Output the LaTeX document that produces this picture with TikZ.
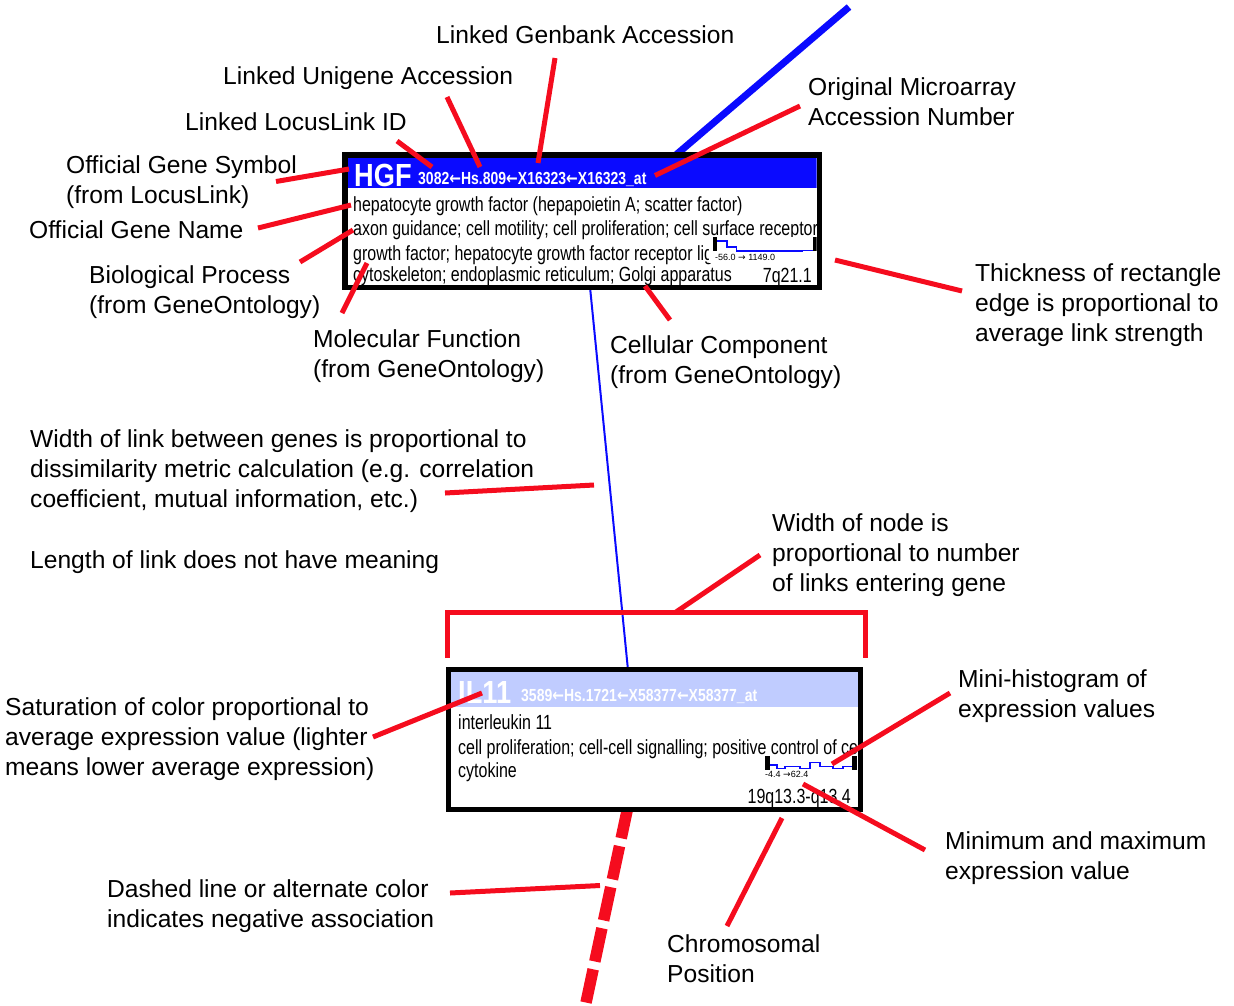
\documentclass[tikz,border=0pt]{standalone}
\usepackage{fontspec}
\setmainfont{Liberation Sans}
\newfontfamily\narrow[FakeStretch=0.78]{Liberation Sans}
\newfontfamily\narrowI[FakeStretch=0.80]{Liberation Sans}
\newfontfamily\narrowB[FakeStretch=0.85]{Liberation Sans}
\newfontfamily\arrowfont[FakeStretch=0.8]{DejaVu Sans}
\newfontfamily\arrowplain{DejaVu Sans}
\newcommand{\larr}{{\arrowfont\bfseries ←}}
\newcommand{\rarr}{{\arrowplain →}}
\usetikzlibrary{calc}
\definecolor{annred}{RGB}{245,12,30}
\definecolor{linkblue}{RGB}{10,10,255}
\definecolor{hdrblue}{RGB}{10,10,255}
\definecolor{hdrlight}{RGB}{192,204,255}
\begin{document}
\begin{tikzpicture}[x=1pt,y=-1pt,
  lbl/.style={anchor=base west, inner sep=0pt, align=left, font=\fontsize{24.6}{30}\selectfont},
  ann/.style={draw=annred, line width=5pt},
  genebox/.style={draw=black, fill=white, line width=5.5pt, inner sep=0pt, rectangle},
  body/.style={anchor=base west, inner sep=0pt, font=\narrow\fontsize{20.5}{24}\selectfont},
  symb/.style={anchor=base west, inner sep=0pt, text=white, font=\narrowB\bfseries\fontsize{32}{34}\selectfont},
  ids/.style={anchor=base west, inner sep=0pt, text=white, font=\narrowI\bfseries\fontsize{17.5}{19}\selectfont},
  histlbl/.style={anchor=base west, inner sep=0pt, font=\fontsize{9}{10}\selectfont},
  histline/.style={draw=linkblue, line width=1.6pt},
]
\useasboundingbox (0,0) rectangle (1234,1005);

% ---------- links (behind boxes) ----------
\coordinate (linkTop) at (590,287);
\coordinate (linkBot) at (628,670);
\coordinate (thickA) at (670,160);
\coordinate (thickB) at (849,7);
\coordinate (dashA) at (628.3,805);
\coordinate (dashB) at (585.5,1005);
\draw[linkblue, line width=2pt] (linkTop) -- (linkBot);
\draw[linkblue, line width=7pt] (thickA) -- (thickB);
\draw[annred, line width=11.5pt, dash pattern=on 34pt off 8pt] (dashA) -- (dashB);

% ---------- gene boxes ----------
\node[genebox, minimum width=474.5pt, minimum height=132.5pt] (hgf) at (582,221) {};
\node[genebox, line width=5pt, minimum width=412pt, minimum height=140pt] (il11) at (654.5,739.5) {};

% HGF contents
\begin{scope}
  \clip (347.5,157.5) rectangle (816.5,284.5);
  \fill[hdrblue] (347.5,157.5) rectangle (816.5,188);
  \node[symb] (hgfSym) at (354,186.5) {HGF};
  \node[ids] (hgfIds) at (418,184) {3082\larr Hs.809\larr X16323\larr X16323\_at};
  \node[body] (hgfName) at (353,211) {hepatocyte growth factor (hepapoietin A; scatter factor)};
  \node[body] (hgfBP) at (353,235.5) {axon guidance; cell motility; cell proliferation; cell surface receptor};
  \node[body] (hgfMF) at (353,260) {growth factor; hepatocyte growth factor receptor lig};
  \node[body] (hgfCC) at (353,281) {cytoskeleton; endoplasmic reticulum; Golgi apparatus};
  \node[body, anchor=base east] (hgfChr) at (812,282) {7q21.1};
  \fill[white] (709,237) rectangle (819,263);
  \fill[black] (712.5,237) rectangle (717,251);
  \fill[black] (813,237) rectangle (819,251);
  \draw[histline] (717,241) -- (727,241) -- (727,247) -- (736.5,247) -- (736.5,251) -- (802,251) -- (802,250.3) -- (813,250.3);
  \node[histlbl] (hgfRange) at (715,260) {-56.0 \rarr{} 1149.0};
\end{scope}

% IL11 contents
\begin{scope}
  \clip (451,672) rectangle (858,807);
  \fill[hdrlight] (451,672) rectangle (858,707);
  \node[symb] (il11Sym) at (458,703.5) {IL11};
  \node[ids] (il11Ids) at (521,701.5) {3589\larr Hs.1721\larr X58377\larr X58377\_at};
  \node[body] (il11Name) at (458,729) {interleukin 11};
  \node[body] (il11BP) at (458,754) {cell proliferation; cell-cell signalling; positive control of ce};
  \node[body] (il11MF) at (458,777) {cytokine};
  \node[body, anchor=base east] (il11Chr) at (851,803) {19q13.3-q13.4};
  \fill[white] (763,755.5) rectangle (858,779);
  \fill[black] (765,756) rectangle (769.5,769.5);
  \fill[black] (852,756) rectangle (857,769.5);
  \draw[histline] (769.5,765) -- (777,765) -- (777,768.5) -- (785,768.5) -- (785,766.5) -- (800,766.5) -- (800,768.5) -- (810,768.5) -- (810,762.5) -- (820,762.5) -- (820,766.5) -- (833,766.5) -- (833,768.5) -- (843,768.5) -- (843,766.5) -- (852,766.5);
  \node[histlbl] (il11Range) at (765,777) {-4.4 \rarr 62.4};
\end{scope}

% ---------- labels (anchor = baseline of the last line) ----------
\node[lbl] (lGenbank) at (436,43) {Linked Genbank Accession};
\node[lbl] (lUnigene) at (223,84) {Linked Unigene Accession};
\node[lbl] (lLocus) at (185,130) {Linked LocusLink ID};
\node[lbl] (lMicro) at (808,125) {Original Microarray\\Accession Number};
\node[lbl] (lSymbol) at (66,203) {Official Gene Symbol\\(from LocusLink)};
\node[lbl] (lName) at (29,238) {Official Gene Name};
\node[lbl] (lBio) at (89,313) {Biological Process\\(from GeneOntology)};
\node[lbl] (lMol) at (313,377) {Molecular Function\\(from GeneOntology)};
\node[lbl] (lCell) at (610,383) {Cellular Component\\(from GeneOntology)};
\node[lbl] (lThick) at (975,341) {Thickness of rectangle\\edge is proportional to\\average link strength};
\node[lbl] (lWidth) at (30,507) {Width of link between genes is proportional to\\dissimilarity metric calculation (e.g. correlation\\coefficient, mutual information, etc.)};
\node[lbl] (lLength) at (30,568) {Length of link does not have meaning};
\node[lbl] (lNode) at (772,591) {Width of node is\\proportional to number\\of links entering gene};
\node[lbl] (lSat) at (5,775) {Saturation of color proportional to\\average expression value (lighter\\means lower average expression)};
\node[lbl] (lHist) at (958,717) {Mini-histogram of\\expression values};
\node[lbl] (lMinMax) at (945,879) {Minimum and maximum\\expression value};
\node[lbl] (lChrom) at (667,982) {Chromosomal\\Position};
\node[lbl] (lDash) at (107,927) {Dashed line or alternate color\\indicates negative association};

% ---------- annotation connectors ----------
\coordinate (aGenbank) at (555,58);   \coordinate (tGenbank) at (538,163);
\coordinate (aUnigene) at (447,97);   \coordinate (tUnigene) at (480,167);
\coordinate (aLocus) at (397,141);    \coordinate (tLocus) at (432,167);
\coordinate (aMicro) at (800,106);    \coordinate (tMicro) at (655,175.5);
\coordinate (aSymbol) at (276,181.5); \coordinate (tSymbol) at (349,169);
\coordinate (aName) at (258,228);     \coordinate (tName) at (351,205);
\coordinate (aBio) at (300,262);      \coordinate (tBio) at (353,230);
\coordinate (aMol) at (342,313);      \coordinate (tMol) at (367,263);
\coordinate (aCell) at (670,320);     \coordinate (tCell) at (645,286);
\coordinate (aThick) at (962,291);    \coordinate (tThick) at (835,260);
\coordinate (aWidth) at (445,493);    \coordinate (tWidth) at (594,485);
\coordinate (aSat) at (373,737);      \coordinate (tSat) at (482,693);
\coordinate (aHist) at (950,693);     \coordinate (tHist) at (832,764);
\coordinate (aMinMax) at (925,850);   \coordinate (tMinMax) at (803,784);
\coordinate (aChrom) at (727,926);    \coordinate (tChrom) at (782,818);
\coordinate (aDash) at (450,893);     \coordinate (tDash) at (600,885.5);
\coordinate (brL) at (447,658);  \coordinate (brLt) at (447,612);
\coordinate (brRt) at (865,612); \coordinate (brR) at (865,658);
\coordinate (brM) at (676,612);  \coordinate (aNode) at (760,555);

\draw[ann] (aGenbank) -- (tGenbank);
\draw[ann] (aUnigene) -- (tUnigene);
\draw[ann] (aLocus) -- (tLocus);
\draw[ann] (aMicro) -- (tMicro);
\draw[ann] (aSymbol) -- (tSymbol);
\draw[ann] (aName) -- (tName);
\draw[ann] (aBio) -- (tBio);
\draw[ann] (aMol) -- (tMol);
\draw[ann] (aCell) -- (tCell);
\draw[ann] (aThick) -- (tThick);
\draw[ann] (aWidth) -- (tWidth);
\draw[ann] (aSat) -- (tSat);
\draw[ann] (aHist) -- (tHist);
\draw[ann] (aMinMax) -- (tMinMax);
\draw[ann] (aChrom) -- (tChrom);
\draw[ann] (aDash) -- (tDash);
\draw[ann, line join=miter] (brL) -- (brLt) -- (brRt) -- (brR);
\draw[ann] (brM) -- (aNode);
\end{tikzpicture}
\end{document}
